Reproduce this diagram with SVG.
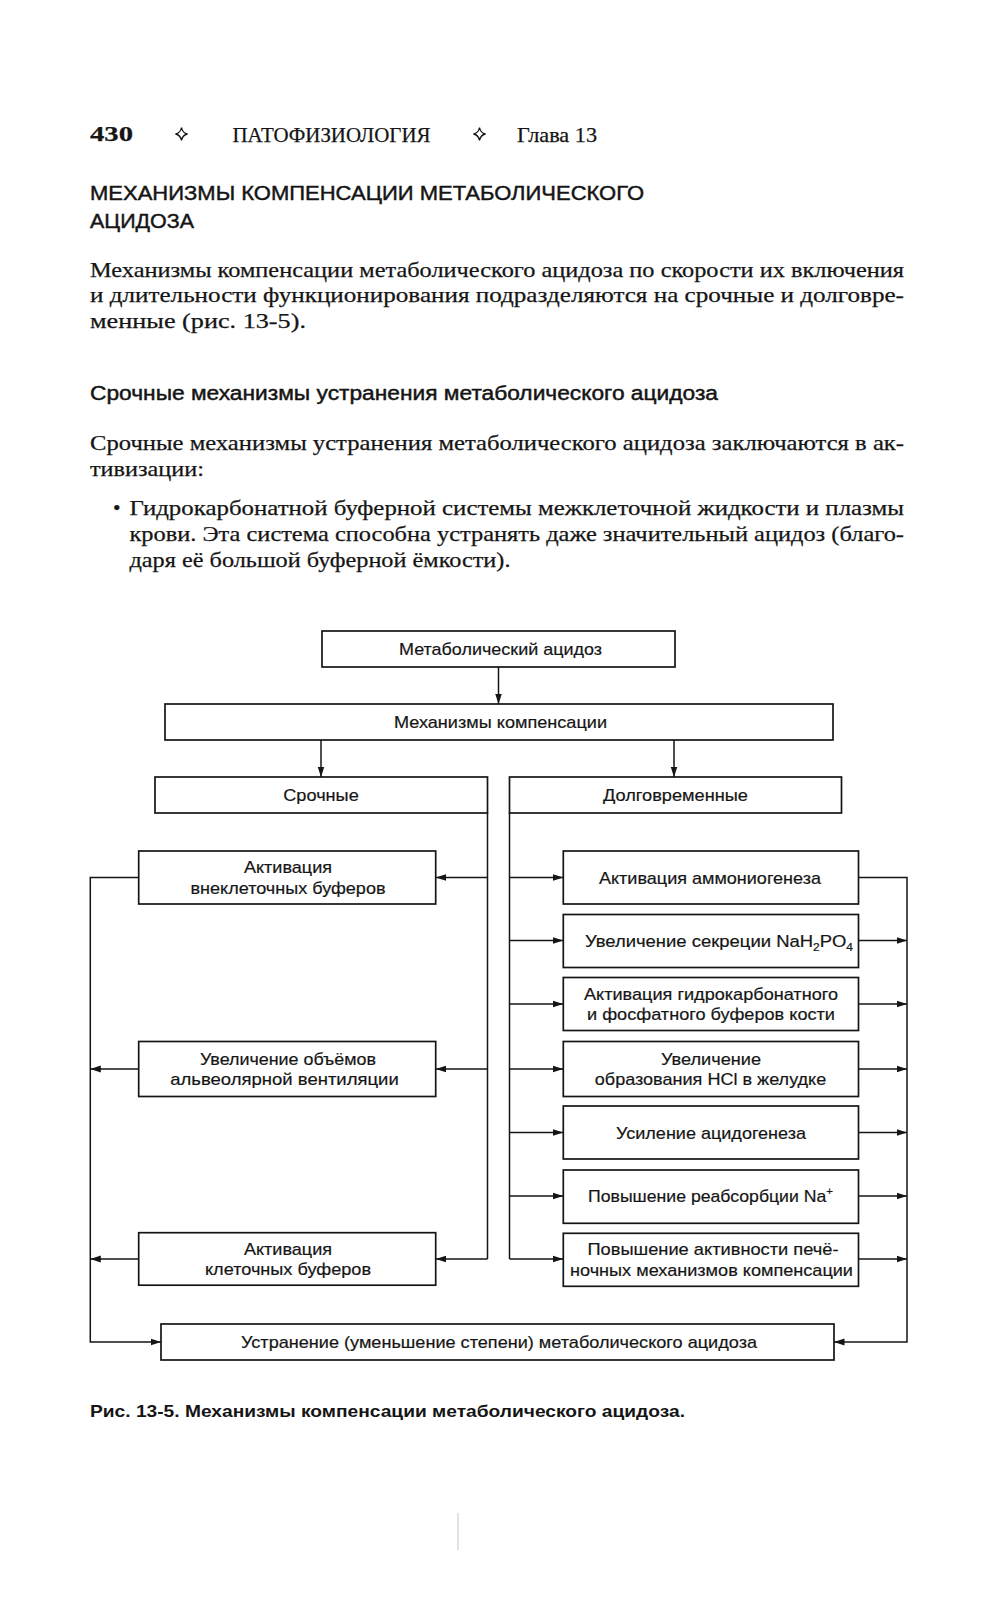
<svg xmlns="http://www.w3.org/2000/svg" width="989" height="1600" viewBox="0 0 989 1600">
<style>
.serif{font-family:"Liberation Serif","Times New Roman",serif;fill:#151515;stroke:#151515;stroke-width:0.25}
.sans{font-family:"Liberation Sans",Arial,sans-serif;fill:#151515}
.hd{stroke:#151515;stroke-width:0.45}
.dg{font-family:"Liberation Sans",Arial,sans-serif;font-size:17px;fill:#151515;text-anchor:middle;stroke:#151515;stroke-width:0.2}
.st{text-anchor:start}
.box{fill:#fff;stroke:#151515;stroke-width:1.7}
.ln{fill:none;stroke:#151515;stroke-width:1.5}
.ar{fill:none;stroke:#151515;stroke-width:1.5;marker-end:url(#ah)}
.dm{fill:none;stroke:#151515;stroke-width:1.3}
</style>
<defs>
<marker id="ah" markerUnits="userSpaceOnUse" markerWidth="11" markerHeight="8" refX="10.5" refY="4" orient="auto">
<path d="M0,0.6 L10.5,4 L0,7.4 z" fill="#151515"/>
</marker>
</defs>
<rect width="989" height="1600" fill="#fff"/>

<!-- header -->
<g id="header">
<text class="serif" x="90" y="141" font-size="22" font-weight="bold" textLength="43" lengthAdjust="spacingAndGlyphs">430</text>
<path class="dm" d="M181.5,127.5 Q182.5,133 187.5,134 Q182.5,135 181.5,140.5 Q180.5,135 175.5,134 Q180.5,133 181.5,127.5 Z"/>
<text class="serif" x="232.5" y="141.5" font-size="22" textLength="198" lengthAdjust="spacingAndGlyphs">ПАТОФИЗИОЛОГИЯ</text>
<path class="dm" d="M479.5,127.5 Q480.5,133 485.5,134 Q480.5,135 479.5,140.5 Q478.5,135 473.5,134 Q478.5,133 479.5,127.5 Z"/>
<text class="serif" x="517" y="141.5" font-size="21" textLength="80" lengthAdjust="spacingAndGlyphs">Глава 13</text>
</g>

<g id="title">
<text class="sans hd" x="90" y="200" font-size="21" textLength="554" lengthAdjust="spacingAndGlyphs">МЕХАНИЗМЫ КОМПЕНСАЦИИ МЕТАБОЛИЧЕСКОГО</text>
<text class="sans hd" x="90" y="227.5" font-size="21" textLength="104" lengthAdjust="spacingAndGlyphs">АЦИДОЗА</text>
</g>

<g id="para1">
<text class="serif" x="90" y="276.5" font-size="21.5" textLength="814" lengthAdjust="spacingAndGlyphs">Механизмы компенсации метаболического ацидоза по скорости их включения</text>
<text class="serif" x="90" y="302" font-size="21.5" textLength="814" lengthAdjust="spacingAndGlyphs">и длительности функционирования подразделяются на срочные и долговре-</text>
<text class="serif" x="90" y="327.5" font-size="21.5" textLength="216" lengthAdjust="spacingAndGlyphs">менные (рис. 13-5).</text>
</g>

<g id="heading2">
<text class="sans hd" x="90" y="400" font-size="20" textLength="628" lengthAdjust="spacingAndGlyphs">Срочные механизмы устранения метаболического ацидоза</text>
</g>

<g id="para2">
<text class="serif" x="90" y="450" font-size="21.5" textLength="814" lengthAdjust="spacingAndGlyphs">Срочные механизмы устранения метаболического ацидоза заключаются в ак-</text>
<text class="serif" x="90" y="475.5" font-size="21.5" textLength="114" lengthAdjust="spacingAndGlyphs">тивизации:</text>
</g>

<g id="bullet">
<text class="serif" x="113" y="514.5" font-size="21.5">•</text>
<text class="serif" x="129.5" y="514.5" font-size="21.5" textLength="774.5" lengthAdjust="spacingAndGlyphs">Гидрокарбонатной буферной системы межклеточной жидкости и плазмы</text>
<text class="serif" x="129.5" y="540.5" font-size="21.5" textLength="774.5" lengthAdjust="spacingAndGlyphs">крови. Эта система способна устранять даже значительный ацидоз (благо-</text>
<text class="serif" x="129.5" y="566.5" font-size="21.5" textLength="381" lengthAdjust="spacingAndGlyphs">даря её большой буферной ёмкости).</text>
</g>

<!-- connectors -->
<g id="connectors">
<path class="ar" d="M498.5,667 V704"/>
<path class="ar" d="M321,740 V777"/>
<path class="ar" d="M674,740 V777"/>
<path class="ln" d="M487.5,813 V1259"/>
<path class="ar" d="M487.5,877.5 H435.7"/>
<path class="ar" d="M487.5,1069 H435.7"/>
<path class="ar" d="M487.5,1259 H435.7"/>
<path class="ln" d="M509.5,813 V1259"/>
<path class="ar" d="M509.5,877.5 H563.3"/>
<path class="ar" d="M509.5,940.5 H563.3"/>
<path class="ar" d="M509.5,1004 H563.3"/>
<path class="ar" d="M509.5,1069 H563.3"/>
<path class="ar" d="M509.5,1132.5 H563.3"/>
<path class="ar" d="M509.5,1196 H563.3"/>
<path class="ar" d="M509.5,1259 H563.3"/>
<path class="ar" d="M138.7,877.5 H90.3 V1342 H161"/>
<path class="ar" d="M138.7,1069 H90.3"/>
<path class="ar" d="M138.7,1259 H90.3"/>
<path class="ar" d="M858.5,877.5 H907 V1342 H834"/>
<path class="ar" d="M858.5,940.5 H907"/>
<path class="ar" d="M858.5,1004 H907"/>
<path class="ar" d="M858.5,1069 H907"/>
<path class="ar" d="M858.5,1132.5 H907"/>
<path class="ar" d="M858.5,1196 H907"/>
<path class="ar" d="M858.5,1259 H907"/>
</g>

<!-- nodes -->
<g id="n-acidosis">
<rect class="box" x="322" y="631" width="353" height="36"/>
<text class="dg" x="500.5" y="655" textLength="203" lengthAdjust="spacingAndGlyphs">Метаболический ацидоз</text>
</g>
<g id="n-mechanisms">
<rect class="box" x="165" y="704" width="668" height="36"/>
<text class="dg" x="500.5" y="728" textLength="213" lengthAdjust="spacingAndGlyphs">Механизмы компенсации</text>
</g>
<g id="n-urgent">
<rect class="box" x="155" y="777" width="332.5" height="36"/>
<text class="dg" x="321" y="801" textLength="75.5" lengthAdjust="spacingAndGlyphs">Срочные</text>
</g>
<g id="n-longterm">
<rect class="box" x="509.5" y="777" width="332" height="36"/>
<text class="dg" x="675.5" y="801" textLength="145" lengthAdjust="spacingAndGlyphs">Долговременные</text>
</g>

<g id="n-extracellular">
<rect class="box" x="138.7" y="851" width="297" height="53"/>
<text class="dg" x="288" y="873" textLength="88" lengthAdjust="spacingAndGlyphs">Активация</text>
<text class="dg" x="288" y="893.5" textLength="195" lengthAdjust="spacingAndGlyphs">внеклеточных буферов</text>
</g>
<g id="n-ventilation">
<rect class="box" x="138.7" y="1041.5" width="297" height="55"/>
<text class="dg" x="288" y="1064.5" textLength="176" lengthAdjust="spacingAndGlyphs">Увеличение объёмов</text>
<text class="dg" x="284.5" y="1085" textLength="228.5" lengthAdjust="spacingAndGlyphs">альвеолярной вентиляции</text>
</g>
<g id="n-cellular">
<rect class="box" x="138.7" y="1232.7" width="297" height="52.5"/>
<text class="dg" x="288" y="1254.5" textLength="88" lengthAdjust="spacingAndGlyphs">Активация</text>
<text class="dg" x="288" y="1275" textLength="166" lengthAdjust="spacingAndGlyphs">клеточных буферов</text>
</g>

<g id="n-ammonio">
<rect class="box" x="563.3" y="851" width="295.2" height="53"/>
<text class="dg" x="710" y="883.5" textLength="222" lengthAdjust="spacingAndGlyphs">Активация аммониогенеза</text>
</g>
<g id="n-nah2po4">
<rect class="box" x="563.3" y="914.5" width="295.2" height="53"/>
<text class="dg st" x="585" y="946.5" textLength="268" lengthAdjust="spacingAndGlyphs">Увеличение секреции NaH<tspan font-size="11" dy="4">2</tspan><tspan dy="-4">PO</tspan><tspan font-size="11" dy="4">4</tspan></text>
</g>
<g id="n-bone">
<rect class="box" x="563.3" y="977.5" width="295.2" height="53"/>
<text class="dg" x="711" y="999.5" textLength="254" lengthAdjust="spacingAndGlyphs">Активация гидрокарбонатного</text>
<text class="dg" x="711" y="1020" textLength="248" lengthAdjust="spacingAndGlyphs">и фосфатного буферов кости</text>
</g>
<g id="n-hcl">
<rect class="box" x="563.3" y="1041.5" width="295.2" height="55"/>
<text class="dg" x="711" y="1064.5" textLength="100" lengthAdjust="spacingAndGlyphs">Увеличение</text>
<text class="dg" x="710.5" y="1085" textLength="231.5" lengthAdjust="spacingAndGlyphs">образования HCl в желудке</text>
</g>
<g id="n-acidogenesis">
<rect class="box" x="563.3" y="1106" width="295.2" height="53"/>
<text class="dg" x="711" y="1138.5" textLength="190" lengthAdjust="spacingAndGlyphs">Усиление ацидогенеза</text>
</g>
<g id="n-na">
<rect class="box" x="563.3" y="1170" width="295.2" height="53.3"/>
<text class="dg st" x="588" y="1202" textLength="245" lengthAdjust="spacingAndGlyphs">Повышение реабсорбции Na<tspan font-size="11" dy="-7">+</tspan></text>
</g>
<g id="n-liver">
<rect class="box" x="563.3" y="1233.3" width="295.2" height="53"/>
<text class="dg" x="713" y="1255" textLength="251" lengthAdjust="spacingAndGlyphs">Повышение активности печё-</text>
<text class="dg" x="711.5" y="1275.5" textLength="283" lengthAdjust="spacingAndGlyphs">ночных механизмов компенсации</text>
</g>

<g id="n-result">
<rect class="box" x="161" y="1324" width="673" height="36"/>
<text class="dg" x="499" y="1348" textLength="516" lengthAdjust="spacingAndGlyphs">Устранение (уменьшение степени) метаболического ацидоза</text>
</g>

<g id="caption">
<text class="sans" x="90" y="1417" font-size="17" font-weight="bold" textLength="595" lengthAdjust="spacingAndGlyphs">Рис. 13-5. Механизмы компенсации метаболического ацидоза.</text>
</g>

<line x1="458" y1="1513" x2="458" y2="1550" stroke="#cfcfcf" stroke-width="1.2"/>
</svg>
